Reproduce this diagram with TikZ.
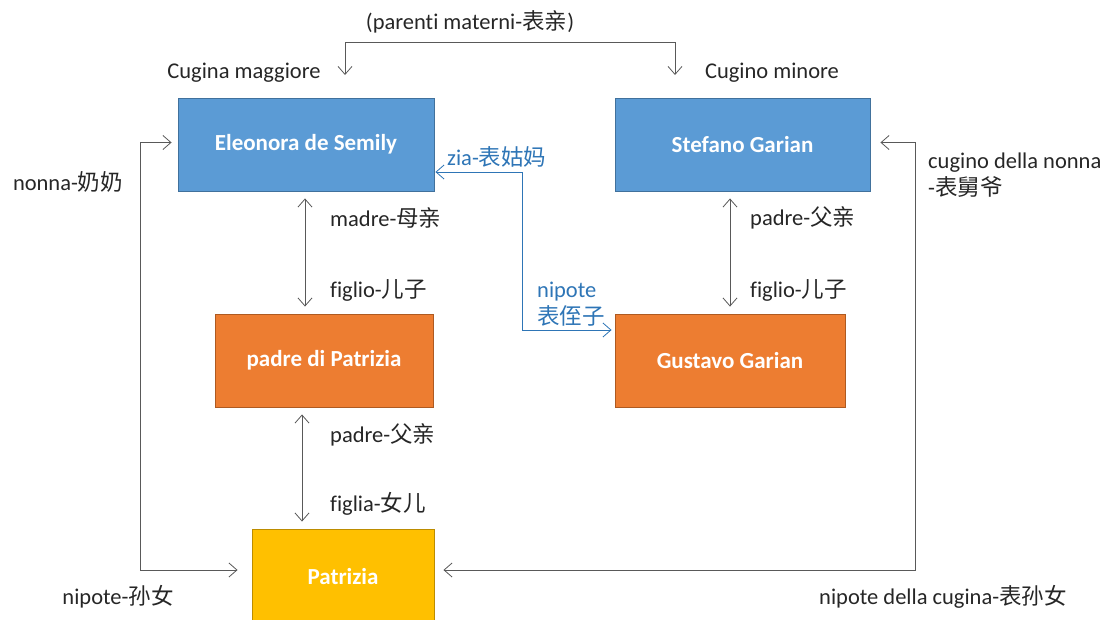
\documentclass[tikz,border=0pt]{standalone}
\usepackage{fontspec}
\setmainfont{Carlito}[Ligatures=NoCommon]
\newfontfamily\cjk{Noto Sans CJK SC}
\newcommand{\hanzi}[1]{{\cjk #1}}
\usepackage{xcolor}
\usepackage{tikz}
\usetikzlibrary{arrows.meta,positioning,calc}
\definecolor{boxblue}{RGB}{91,155,213}
\definecolor{boxblueline}{RGB}{65,113,156}
\definecolor{boxorange}{RGB}{237,125,49}
\definecolor{boxorangeline}{RGB}{174,90,33}
\definecolor{boxyellow}{RGB}{255,192,0}
\definecolor{boxyellowline}{RGB}{188,140,0}
\definecolor{linkgray}{RGB}{89,89,89}
\definecolor{textdark}{RGB}{38,38,38}
\definecolor{linkblue}{RGB}{46,117,182}
\tikzset{
  person/.style={rectangle,line width=0.9pt,text=white,font=\fontsize{23}{27}\selectfont\bfseries,minimum height=93pt,inner sep=0pt},
  elder/.style={person,fill=boxblue,draw=boxblueline},
  middle/.style={person,fill=boxorange,draw=boxorangeline},
  young/.style={person,fill=boxyellow,draw=boxyellowline},
  relname/.style={font=\fontsize{22.5}{27}\selectfont,text=textdark,inner sep=0pt,align=left},
  bluename/.style={relname,text=linkblue},
  link/.style={line width=0.8pt,draw=linkgray,-{Straight Barb[length=8pt,width=14pt]}},
  dlink/.style={line width=0.8pt,draw=linkgray,{Straight Barb[length=8pt,width=14pt]}-{Straight Barb[length=8pt,width=14pt]}},
  bluelink/.style={line width=0.8pt,draw=linkblue,{Straight Barb[length=8pt,width=14pt]}-{Straight Barb[length=8pt,width=14pt]}}
}

\begin{document}
\begin{tikzpicture}[x=1pt,y=-1pt]
  \useasboundingbox (0,0) rectangle (1107,619);

  \node[elder,minimum width=256pt] (eleonora) at (306,144.5) {Eleonora de Semily};
  \node[elder,minimum width=255pt] (stefano) at (742.5,144.5) {Stefano Garian};
  \node[middle,minimum width=218pt] (padre) at (324,360.5) {padre di Patrizia};
  \node[middle,minimum width=230pt] (gustavo) at (730,360.5) {Gustavo Garian};
  \node[young,minimum width=182pt,minimum height=96pt] (patrizia) at (343,577) {Patrizia};

  \node[relname,anchor=center] (materni) at (470,22) {(parenti materni-\hanzi{表亲})};
  \node[relname,anchor=center] (maggiore) at (244,73) {Cugina maggiore};
  \node[relname,anchor=center] (minore) at (772,73) {Cugino minore};

  \coordinate (bl) at (345,42);
  \coordinate (br) at (675,42);
  \coordinate (bldown) at (345,75);
  \coordinate (brdown) at (675,75);
  \draw[link] (br) -- (bl) -- (bldown);
  \draw[link] (bl) -- (br) -- (brdown);

  \draw[dlink,shorten <=7pt,shorten >=7pt]
    ([xshift=-1pt]eleonora.south) -- ([xshift=-1pt]eleonora.south |- padre.north);
  \draw[dlink,shorten <=7pt,shorten >=7pt]
    ([xshift=-22pt]padre.south) -- ([xshift=-22pt]padre.south |- patrizia.north);
  \draw[dlink,shorten <=7pt,shorten >=7pt]
    (gustavo.north |- stefano.south) -- (gustavo.north);

  \coordinate (lcorner) at (140,570);
  \coordinate (rcorner) at (915,570);
  \coordinate (bcorner) at (522,330);
  \draw[dlink,shorten <=6pt,shorten >=14pt]
    ([yshift=2pt]eleonora.west) -| (lcorner) -- (lcorner -| patrizia.west);
  \draw[dlink,shorten <=10pt,shorten >=9pt]
    ([yshift=2pt]stefano.east) -| (rcorner) -- (rcorner -| patrizia.east);
  \draw[bluelink,shorten <=1pt,shorten >=3pt]
    ($(eleonora.east)+(0,27.5)$) -| (bcorner) -- (bcorner -| gustavo.west);

  \node[relname,anchor=center] at (68,182) {nonna-\hanzi{奶奶}};
  \node[relname,anchor=west] at (928,175) {cugino della nonna\\-\hanzi{表舅爷}};
  \node[bluename,anchor=west] at (447,157) {zia-\hanzi{表姑妈}};
  \node[bluename,anchor=west] at (537,304) {nipote\\\hanzi{表侄子}};

  \node[relname,anchor=west] at (330,218) {madre-\hanzi{母亲}};
  \node[relname,anchor=west] at (330,290) {figlio-\hanzi{儿子}};
  \node[relname,anchor=west] at (330,435) {padre-\hanzi{父亲}};
  \node[relname,anchor=west] at (330,504) {figlia-\hanzi{女儿}};
  \node[relname,anchor=west] at (750,218) {padre-\hanzi{父亲}};
  \node[relname,anchor=west] at (750,290) {figlio-\hanzi{儿子}};

  \node[relname,anchor=center] at (118,597) {nipote-\hanzi{孙女}};
  \node[relname,anchor=center] at (943,597) {nipote della cugina-\hanzi{表孙女}};
\end{tikzpicture}
\end{document}
